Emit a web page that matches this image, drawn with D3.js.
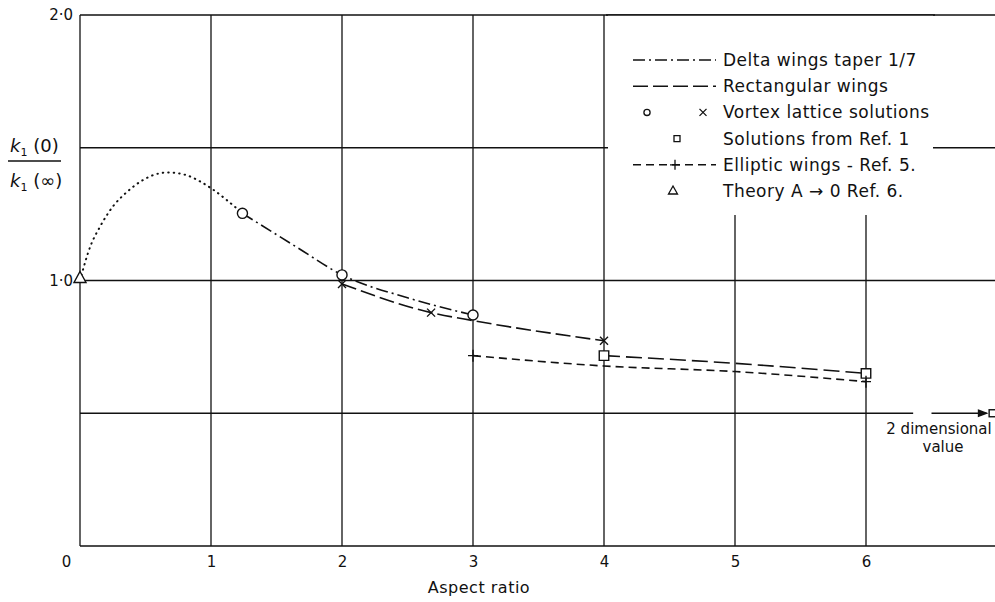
<!DOCTYPE html>
<html>
<head>
<meta charset="utf-8">
<script src="https://cdn.jsdelivr.net/npm/d3@7"></script>
<style>
  body { margin: 0; background: #fff; }
  svg text { font-family: "DejaVu Sans", sans-serif; fill: #111; }
</style>
</head>
<body>
<svg id="chart" width="995" height="602"></svg>
<script>
// Data
const xTicks = [0, 1, 2, 3, 4, 5, 6];
const yTicks = [1, 2];
const gridX = [1, 2, 3, 4, 5, 6];
const gridY = [0, 0.5, 1, 1.5, 2];

// dotted extension from theory at A -> 0
const dottedAR = [0, 0.08, 0.15, 0.25, 0.36, 0.46, 0.56, 0.67, 0.81, 0.92, 1.02, 1.12, 1.24];
const dottedK = [1.0, 1.13, 1.2, 1.278, 1.334, 1.372, 1.397, 1.407, 1.397, 1.372, 1.341, 1.303, 1.253];

// Delta wings taper 1/7
const deltaAR = [1.24, 1.65, 2, 2.5, 3];
const deltaK = [1.253, 1.127, 1.021, 0.935, 0.87];

// Rectangular wings (vortex lattice), then from Ref. 1
const rectAR = [2, 2.68, 3, 4];
const rectK = [0.987, 0.879, 0.849, 0.773];
const rectRefAR = [4, 5, 6];
const rectRefK = [0.717, 0.688, 0.65];

// Elliptic wings - Ref. 5
const ellAR = [3, 4, 5, 6];
const ellK = [0.717, 0.678, 0.657, 0.619];

// point markers
const circlePts = [[1.24, 1.253], [2, 1.021], [3, 0.87]];
const crossPts = [[2, 0.987], [2.68, 0.879], [4, 0.773]];
const squarePts = [[4, 0.717], [6, 0.65]];
const plusPts = [[3, 0.717], [6, 0.619]];
const trianglePts = [[0, 1.0]];

const twoDimValue = 0.5;

const legendLabels = [
  "Delta wings taper 1/7",
  "Rectangular wings",
  "Vortex lattice solutions",
  "Solutions from Ref. 1",
  "Elliptic wings - Ref. 5.",
  "Theory A \u2192 0  Ref. 6."
];

const zip = (a, b) => a.map((v, i) => [v, b[i]]);

const svg = d3.select("#chart");

const x = d3.scaleLinear().domain([0, 7]).range([80, 997]);
const y = d3.scaleLinear().domain([0, 2]).range([546, 15]);

const ink = "#111";

// Grid
const grid = svg.append("g").attr("stroke", ink).attr("stroke-width", 1.3);
grid.selectAll("line.h")
  .data(gridY)
  .join("line")
  .attr("x1", x(0))
  .attr("x2", (d) => (d === twoDimValue ? x(6.36) : 995))
  .attr("y1", (d) => y(d))
  .attr("y2", (d) => y(d));

grid.selectAll("line.v")
  .data([0].concat(gridX))
  .join("line")
  .attr("x1", (d) => x(d))
  .attr("x2", (d) => x(d))
  .attr("y1", y(2))
  .attr("y2", y(0));

// Legend box (white, hides grid behind), top border drawn again over it
const legX = 608, legY = 15, legW = 325, legH = 200;
svg.append("rect")
  .attr("x", legX).attr("y", legY)
  .attr("width", legW).attr("height", legH)
  .attr("fill", "#fff");
svg.append("line")
  .attr("x1", legX - 2).attr("x2", legX + legW + 2)
  .attr("y1", y(2)).attr("y2", y(2))
  .attr("stroke", ink).attr("stroke-width", 1.3);

// Lines
const line = d3.line()
  .x((d) => x(d[0]))
  .y((d) => y(d[1]))
  .curve(d3.curveMonotoneX);

const curves = svg.append("g").attr("fill", "none").attr("stroke", ink);

curves.append("path")
  .attr("d", line(zip(dottedAR, dottedK)))
  .attr("stroke-width", 2)
  .attr("stroke-linecap", "round")
  .attr("stroke-dasharray", "0.5,5");

curves.append("path")
  .attr("d", line(zip(deltaAR, deltaK)))
  .attr("stroke-width", 1.6)
  .attr("stroke-dasharray", "12,4,2,4");

curves.append("path")
  .attr("d", line(zip(rectAR, rectK)))
  .attr("stroke-width", 1.6)
  .attr("stroke-dasharray", "15,5");

curves.append("path")
  .attr("d", line(zip(rectRefAR, rectRefK)))
  .attr("stroke-width", 1.6)
  .attr("stroke-dasharray", "16,6");

curves.append("path")
  .attr("d", line(zip(ellAR, ellK)))
  .attr("stroke-width", 1.6)
  .attr("stroke-dasharray", "8,5");

// Markers
const marks = svg.append("g").attr("fill", "#fff").attr("stroke", ink).attr("stroke-width", 1.4);

const sym = (type, size) => d3.symbol().type(type).size(size)();

function drawMarks(pts, path) {
  marks.append("g")
    .selectAll("path")
    .data(pts)
    .join("path")
    .attr("transform", (d) => `translate(${x(d[0])},${y(d[1])})`)
    .attr("d", path);
}
drawMarks(circlePts, sym(d3.symbolCircle, 80));
drawMarks(squarePts, sym(d3.symbolSquare, 90));
drawMarks(trianglePts, "M0,-9L6,2L-6,2Z");
drawMarks(crossPts, "M-4,-4L4,4M-4,4L4,-4");
drawMarks(plusPts, "M-5,0L5,0M0,-6L0,6");

// Two dimensional value arrow
const arrow = svg.append("g").attr("stroke", ink).attr("stroke-width", 1.4);
arrow.append("line")
  .attr("x1", x(6.5)).attr("x2", x(6.92))
  .attr("y1", y(twoDimValue)).attr("y2", y(twoDimValue));
arrow.append("path")
  .attr("transform", `translate(${x(6.92)},${y(twoDimValue)})`)
  .attr("d", "M-8,-3L0,0L-8,3Z")
  .attr("fill", ink);
arrow.append("rect")
  .attr("x", x(6.94)).attr("y", y(twoDimValue) - 3.5)
  .attr("width", 7).attr("height", 7)
  .attr("fill", "#fff");

const noteFont = "15px";
svg.append("text")
  .attr("x", 939).attr("y", 434)
  .attr("text-anchor", "middle")
  .style("font-size", noteFont)
  .text("2 dimensional");
svg.append("text")
  .attr("x", 943).attr("y", 452)
  .attr("text-anchor", "middle")
  .style("font-size", noteFont)
  .text("value");

// Axes labels
const xAxis = svg.append("g")
  .attr("transform", `translate(0,${y(0)})`)
  .call(d3.axisBottom(x).tickValues(xTicks).tickSize(0).tickPadding(10).tickFormat(d3.format("d")));
xAxis.select(".domain").remove();
xAxis.selectAll("text")
  .style("font-size", "15px")
  .attr("dx", (d) => (d === 0 ? -14 : 0));

const yAxis = svg.append("g")
  .attr("transform", `translate(${x(0)},0)`)
  .call(d3.axisLeft(y).tickValues(yTicks).tickSize(0).tickPadding(7).tickFormat((d) => `${d}\u00b70`));
yAxis.select(".domain").remove();
yAxis.selectAll("text").style("font-size", "15px");

svg.append("text")
  .attr("x", 479).attr("y", 593)
  .attr("text-anchor", "middle")
  .style("font-size", "16px")
  .style("letter-spacing", "0.5px")
  .text("Aspect ratio");

// y label as a fraction k1(0) / k1(inf)
const yl = svg.append("g").style("font-size", "18px");
const num = yl.append("text").attr("x", 10).attr("y", 152);
num.append("tspan").style("font-style", "italic").text("k");
num.append("tspan").attr("dy", 4).style("font-size", "11px").text("1");
num.append("tspan").attr("dy", -4).text(" (0)");
yl.append("line")
  .attr("x1", 8).attr("x2", 61)
  .attr("y1", 161).attr("y2", 161)
  .attr("stroke", ink).attr("stroke-width", 1.3);
const den = yl.append("text").attr("x", 10).attr("y", 187);
den.append("tspan").style("font-style", "italic").text("k");
den.append("tspan").attr("dy", 4).style("font-size", "11px").text("1");
den.append("tspan").attr("dy", -4).text(" (\u221e)");

// Legend entries
const rowY = (i) => 60 + i * 26.2;
const legend = svg.append("g");
legend.selectAll("text")
  .data(legendLabels)
  .join("text")
  .attr("x", 723)
  .attr("y", (d, i) => rowY(i) + 6)
  .style("font-size", "17px")
  .style("letter-spacing", "0.5px")
  .text((d) => d);

const sampleDash = ["12,4,2,4", "15,5", null, null, "8,5", null];
sampleDash.forEach((dash, i) => {
  if (!dash) return;
  legend.append("line")
    .attr("x1", 633).attr("x2", 716)
    .attr("y1", rowY(i)).attr("y2", rowY(i))
    .attr("stroke", ink).attr("stroke-width", 1.5)
    .attr("stroke-dasharray", dash);
});
const legMarks = legend.append("g").attr("fill", "#fff").attr("stroke", ink).attr("stroke-width", 1.3);
legMarks.append("path").attr("transform", `translate(647,${rowY(2)})`).attr("d", sym(d3.symbolCircle, 30));
legMarks.append("path").attr("transform", `translate(703,${rowY(2)})`).attr("d", "M-3.5,-3.5L3.5,3.5M-3.5,3.5L3.5,-3.5");
legMarks.append("path").attr("transform", `translate(677,${rowY(3)})`).attr("d", sym(d3.symbolSquare, 36));
legMarks.append("path").attr("transform", `translate(675,${rowY(4)})`).attr("d", "M-5,0L5,0M0,-5L0,5");
legMarks.append("path").attr("transform", `translate(673,${rowY(5)})`).attr("d", "M0,-5L4.5,3L-4.5,3Z");
</script>
</body>
</html>
